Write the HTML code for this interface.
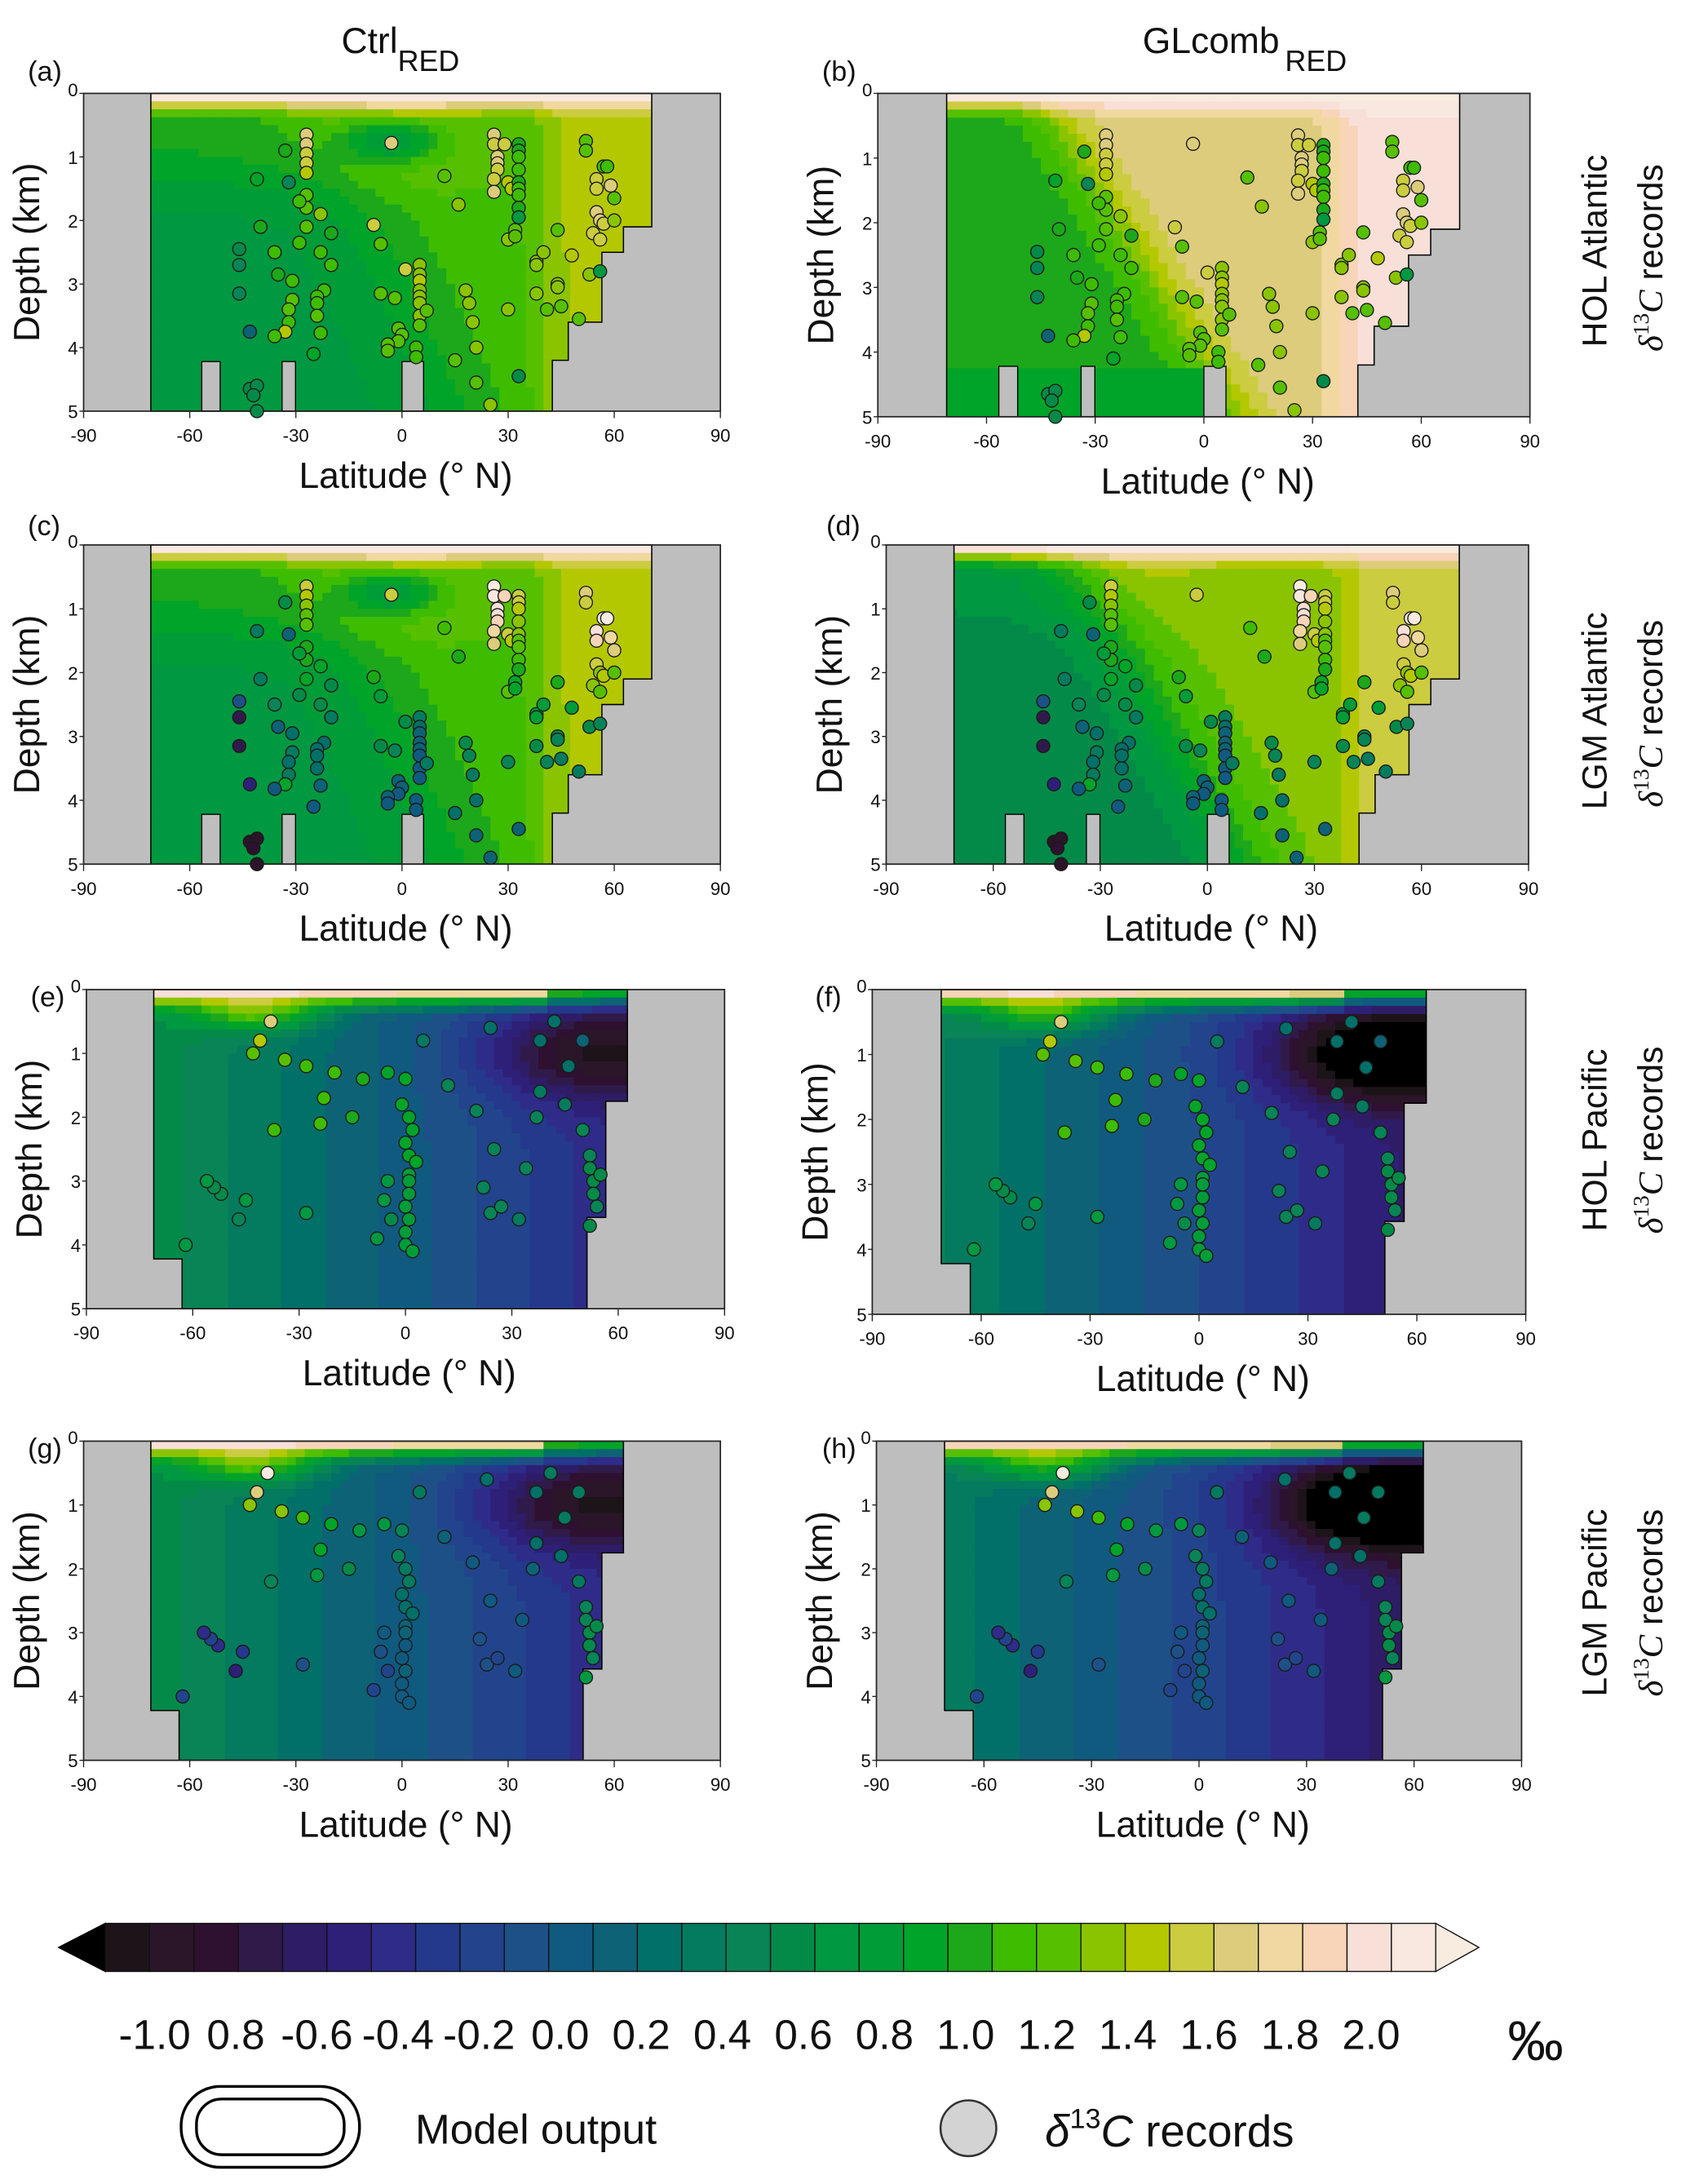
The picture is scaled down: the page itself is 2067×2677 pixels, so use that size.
<!DOCTYPE html>
<html><head><meta charset="utf-8"><style>
html,body{margin:0;padding:0;background:#fff}
svg{display:block}
text{font-family:"Liberation Sans",sans-serif;fill:#111}
</style></head><body>
<svg id="fig" xmlns="http://www.w3.org/2000/svg" width="2067" height="2677" viewBox="0 0 1210 1567" preserveAspectRatio="none">
<g>
<text x="245" y="38" font-size="26">Ctrl<tspan font-size="21" dy="13">RED</tspan></text>
<text x="820" y="38" font-size="26">GLcomb<tspan font-size="21" dy="13" dx="4">RED</tspan></text>
</g>
<g id="panels"></g>
<g font-size="26">
<text transform="rotate(-90 1153 180)" x="1153" y="180" text-anchor="middle" font-size="25">HOL Atlantic</text>
<text transform="rotate(-90 1193 185)" x="1193" y="185" text-anchor="middle" font-size="25"><tspan font-family="Liberation Serif" font-style="italic">δ</tspan><tspan font-family="Liberation Serif" font-size="16" dy="-10">13</tspan><tspan font-family="Liberation Serif" font-style="italic" dy="10">C</tspan> records</text>
<text transform="rotate(-90 1153 510)" x="1153" y="510" text-anchor="middle" font-size="25">LGM Atlantic</text>
<text transform="rotate(-90 1193 512)" x="1193" y="512" text-anchor="middle" font-size="25"><tspan font-family="Liberation Serif" font-style="italic">δ</tspan><tspan font-family="Liberation Serif" font-size="16" dy="-10">13</tspan><tspan font-family="Liberation Serif" font-style="italic" dy="10">C</tspan> records</text>
<text transform="rotate(-90 1153 818)" x="1153" y="818" text-anchor="middle" font-size="25">HOL Pacific</text>
<text transform="rotate(-90 1193 818)" x="1193" y="818" text-anchor="middle" font-size="25"><tspan font-family="Liberation Serif" font-style="italic">δ</tspan><tspan font-family="Liberation Serif" font-size="16" dy="-10">13</tspan><tspan font-family="Liberation Serif" font-style="italic" dy="10">C</tspan> records</text>
<text transform="rotate(-90 1153 1150)" x="1153" y="1150" text-anchor="middle" font-size="25">LGM Pacific</text>
<text transform="rotate(-90 1193 1150)" x="1193" y="1150" text-anchor="middle" font-size="25"><tspan font-family="Liberation Serif" font-style="italic">δ</tspan><tspan font-family="Liberation Serif" font-size="16" dy="-10">13</tspan><tspan font-family="Liberation Serif" font-style="italic" dy="10">C</tspan> records</text>
</g>
<g id="cbar"></g>
<text x="1082" y="1478" font-size="40">‰</text>
<g>
<rect x="130" y="1497" width="128" height="58" rx="28" fill="none" stroke="#000" stroke-width="2"/>
<rect x="141" y="1506" width="106" height="40" rx="18" fill="#fff" stroke="#000" stroke-width="2"/>
<text x="298" y="1538" font-size="30">Model output</text>
<circle cx="695" cy="1527" r="20" fill="#d3d3d3" stroke="#333" stroke-width="1.5"/>
<text x="750" y="1540" font-size="32" font-family="Liberation Serif"><tspan font-style="italic">δ</tspan><tspan font-size="20" dy="-13">13</tspan><tspan font-style="italic" dy="13">C</tspan> records</text>
</g>
</svg>
<script>
// ---- record data ----
const atlLat=[-27,-27,-27,-27,-27,-27,-27,-27,-3,-33,-41,-32,-29,-23,-40,-20,-29,-36,-23,-46,-46,-20,-35,-31,-22,-46,-24,-31,-24,-32,-24,-32,-33,-43,-36,-23,-25,-43,-41,-42,-41,-8,-6,1,5,5,5,5,5,5,5,5,-1,0,-1,-4,-4,4,4,-6,-2,7,12,16,18,19,20,21,15,21,25,26,26,27,27,27,26,26,29,30,31,30,30,33,33,33,33,33,33,33,33,33,32,32,33,38,38,38,40,41,44,44,44,45,48,50,53,56,52,52,57,58,55,55,59,60,55,56,57,54,56,60];
const atlDep=[0.65,0.8,0.95,1.1,1.25,1.6,1.8,2.1,0.78,0.9,1.35,1.4,1.7,1.9,2.1,2.2,2.35,2.5,2.5,2.45,2.7,2.7,2.85,2.95,3.1,3.15,3.2,3.25,3.3,3.4,3.5,3.6,3.75,3.75,3.82,3.77,4.1,4.65,4.6,4.75,5.0,2.07,2.37,2.77,2.7,2.85,2.95,3.1,3.2,3.3,3.5,3.65,3.7,3.8,3.9,3.95,4.05,4.0,4.15,3.15,3.22,3.42,1.3,1.75,3.1,3.3,3.6,4.0,4.2,4.55,4.9,0.65,0.8,1.0,1.1,1.2,1.35,1.55,0.8,1.4,1.5,2.3,3.4,0.8,0.9,1.0,1.2,1.4,1.5,1.6,1.8,1.95,2.15,2.25,4.45,2.65,2.7,3.15,2.5,3.4,2.15,3.0,3.05,3.35,2.55,3.55,2.85,2.8,0.75,0.9,1.15,1.15,1.35,1.5,1.45,1.65,1.87,2.0,2.05,2.2,2.3,2.0];
const atlHolVal=[1.55,1.5,1.45,1.4,1.3,1.1,1.1,1.1,1.55,0.9,0.8,0.4,1.0,1.2,0.9,0.9,1.0,1.0,1.0,0.5,0.4,1.0,0.9,1.0,1.0,0.45,1.0,1.1,1.0,1.1,1.1,1.0,1.3,0.1,1.0,1.0,0.8,0.5,0.5,0.5,0.5,1.45,1.1,1.4,1.2,1.2,1.3,1.2,1.2,1.2,1.2,1.1,1.1,1.1,1.1,1.1,1.1,1.0,1.0,1.1,1.1,1.1,1.1,1.2,1.2,1.2,1.2,1.2,1.1,1.1,1.2,1.5,1.45,1.5,1.55,1.45,1.45,1.5,1.45,1.3,1.3,1.2,1.2,0.9,0.9,1.0,1.0,0.9,1.0,1.0,0.9,0.6,1.1,1.1,0.5,1.2,1.2,1.2,1.2,1.1,1.1,1.2,1.2,1.1,1.3,1.1,1.2,0.6,1.1,1.1,1.0,1.0,1.4,1.4,1.5,1.1,1.55,1.55,1.4,1.4,1.4,1.2];
const atlLgmVal=[1.45,1.3,1.2,1.1,1.1,0.9,0.9,0.8,1.4,0.5,0.3,0.1,0.7,0.8,0.3,0.5,0.5,0.4,0.5,-0.1,-0.7,0.3,0.1,0.2,0.2,-0.7,0.2,0.3,0.2,0.2,0.2,0.3,0.8,-0.5,0.0,0.1,0.0,-0.9,-0.9,-0.8,-0.9,0.9,0.7,0.5,0.3,0.2,0.1,0.1,0.1,0.0,0.0,0.0,0.1,0.1,0.0,0.1,0.0,0.0,0.0,0.5,0.4,0.3,1.0,0.9,0.5,0.4,0.3,0.2,0.2,0.1,0.1,2.05,1.95,1.85,1.8,1.7,1.6,1.5,1.7,1.4,1.3,1.1,0.4,1.4,1.4,1.3,1.2,1.2,1.1,1.1,1.0,0.9,0.8,0.8,0.1,0.7,0.7,0.5,0.7,0.4,0.9,0.5,0.4,0.3,0.7,0.3,0.5,0.4,1.5,1.4,1.95,2.05,1.85,1.7,1.6,1.5,1.4,1.2,1.3,1.2,1.1,1.1];
const pacLat=[-38,-41,-43,-34,-28,-20,-12,-5,-23,-37,-24,-15,0,-1,1,2,0,1,3,1,1,1,0,1,0,0,2,-5,-6,-4,-8,-45,-52,-54,-56,-47,-62,-28,5,12,20,25,22,24,27,32,37,38,34,24,45,50,52,52,53,53,54,52,55,42,50,38,46];
const pacDep=[0.5,0.8,1.0,1.1,1.2,1.3,1.4,1.3,1.7,2.2,2.1,2.0,1.4,1.8,2.0,2.2,2.4,2.6,2.7,2.9,3.0,3.2,3.4,3.6,3.8,4.0,4.1,3.0,3.3,3.6,3.9,3.3,3.2,3.1,3.0,3.6,4.0,3.5,0.8,1.5,1.9,2.5,3.1,3.5,3.4,3.6,2.0,1.6,2.8,0.6,1.8,2.2,2.6,2.8,3.0,3.2,3.4,3.7,2.9,0.5,0.8,0.8,1.2];
const pacHolVal=[1.55,1.3,1.1,1.1,1.0,1.0,0.9,0.8,1.0,1.0,1.0,0.9,0.8,0.8,0.8,0.8,0.8,0.8,0.8,0.7,0.7,0.7,0.7,0.7,0.7,0.7,0.7,0.6,0.6,0.5,0.6,0.6,0.5,0.5,0.6,0.4,0.6,0.6,0.3,0.4,0.4,0.4,0.4,0.4,0.4,0.3,0.4,0.3,0.4,0.2,0.3,0.4,0.4,0.5,0.5,0.5,0.4,0.5,0.5,0.2,0.1,0.2,0.2];
const pacLgmVal=[2.1,1.5,1.2,1.2,1.0,0.8,0.6,0.6,0.8,0.4,0.6,0.5,0.4,0.4,0.3,0.3,0.2,0.2,0.2,0.1,0.1,0.0,0.0,0.1,0.0,0.0,0.0,0.0,-0.1,-0.2,-0.2,-0.3,-0.4,-0.2,-0.4,-0.5,-0.2,-0.1,0.3,0.1,0.0,0.0,-0.1,-0.1,-0.2,0.0,0.1,0.2,0.0,0.2,0.2,0.3,0.4,0.4,0.5,0.5,0.4,0.6,0.5,0.3,0.3,0.2,0.3];
// ---- axis ticks / colorbar ----
const latTicks=[-90,-60,-30,0,30,60,90];
const depthTicks=[0,1,2,3,4,5];
const cbarLabels=["-1.0","0.8","-0.6","-0.4","-0.2","0.0","0.2","0.4","0.6","0.8","1.0","1.2","1.4","1.6","1.8","2.0"];
const cbarColors=["#1c1418","#2a1628","#2e1030","#301a4a","#2e1c66","#2e2078","#2e2c88","#24388c","#22448c","#1e5088","#105a80","#0e6276","#007068","#047a5e","#088456","#048a48","#009840","#009c38","#00a428","#1ca81a","#3ebc00","#56c000","#8ac400","#b4c800","#cccc40","#dccc7c","#f0d8a0","#f8d4b8","#f8e0d8","#f8e8e0"];

const NS="http://www.w3.org/2000/svg";
function mk(tag,attrs,parent){const e=document.createElementNS(NS,tag);for(const k in attrs)e.setAttribute(k,attrs[k]);if(parent)parent.appendChild(e);return e;}
function col(v){if(v<-1)return"#000";if(v>=2)return"#f8ece0";return cbarColors[Math.max(0,Math.min(29,Math.floor((v+1)/0.1+1e-9)))];}
function sig(x){return 1/(1+Math.exp(-x));}
function surf(v,d,top){const f=Math.max(0,(0.5-d)/0.5);return v+Math.pow(f,2)*(top-v);}
function fA(lat,d){let v=0.66+0.42*sig((lat-(-25+8*d))/10)+0.27*sig((1.4-d)/0.25)*(1-sig((lat-15)/8))+0.25*sig((lat-40)/3)-0.55*Math.exp(-Math.pow((lat+3)/14,2)-Math.pow((d-0.75)/0.35,2));return surf(v,d,2.2);}
function fB(lat,d){let v=0.95+0.62*sig((lat-(-45+11*d))/5)+0.3*sig((lat-38)/3);if(d>4.2&&lat<0)v=0.85;return surf(v,d,2.2);}
function fD(lat,d){let v=0.5+0.75*sig((lat-(-40+10*d))/8)+0.2*sig((lat-40)/3)+0.15*sig((1.2-d)/0.25)*(1-sig((lat+10)/8));return surf(v,d,2.2);}
function fPf(s,k){return function(lat,d){let v=0.55-0.9*(lat+70)/125+s-k*Math.exp(-Math.pow((lat-50)/28,2)-Math.pow((d-1.0)/0.7,2))+0.8*Math.exp(-Math.pow((lat+42)/18,2)-Math.pow((d-0.35)/0.3,2));return surf(v,d,lat>40?1.3:2.2);};}

const atlPoly=[[-71,0],[70.6,0],[70.6,2.1],[62.6,2.1],[62.6,2.5],[56.5,2.5],[56.5,3.6],[47,3.6],[47,4.2],[42.5,4.2],[42.5,5],[-71,5]];
const pacPoly=[[-71,0],[62.6,0],[62.6,1.75],[56.5,1.75],[56.5,3.57],[51.2,3.57],[51.2,5],[-63,5],[-63,4.22],[-71,4.22]];
const seamounts=[[-56.6,-51.4],[-33.9,-30.1],[0,6.1]];

const panels=[
 {id:"a",x0:60,w:457,y0:67,h:228,b:"atl",f:fA,lat:atlLat,dep:atlDep,val:atlHolVal,lx:20,ly:58},
 {id:"b",x0:630,w:468,y0:67,h:232,b:"atl",f:fB,lat:atlLat,dep:atlDep,val:atlHolVal,lx:590,ly:58},
 {id:"c",x0:60,w:457,y0:391,h:229,b:"atl",f:fA,lat:atlLat,dep:atlDep,val:atlLgmVal,lx:20,ly:384},
 {id:"d",x0:636,w:461,y0:391,h:229,b:"atl",f:fD,lat:atlLat,dep:atlDep,val:atlLgmVal,lx:593,ly:384},
 {id:"e",x0:62,w:458,y0:710,h:229,b:"pac",f:fPf(0,0.6),lat:pacLat,dep:pacDep,val:pacHolVal,lx:22,ly:722},
 {id:"f",x0:626,w:469,y0:710,h:233,b:"pac",f:fPf(-0.15,0.95),lat:pacLat,dep:pacDep,val:pacHolVal,lx:585,ly:722},
 {id:"g",x0:60,w:457,y0:1034,h:229,b:"pac",f:fPf(0,0.6),lat:pacLat,dep:pacDep,val:pacLgmVal,lx:20,ly:1046},
 {id:"h",x0:629,w:463,y0:1034,h:229,b:"pac",f:fPf(-0.2,1.05),lat:pacLat,dep:pacDep,val:pacLgmVal,lx:590,ly:1046}
];
const root=document.getElementById("panels");
panels.forEach(p=>{
 const X=lat=>p.x0+(lat+90)/180*p.w, Y=d=>p.y0+d/5*p.h;
 const g=mk("g",{},root);
 
 
 const bg=mk("rect",{x:p.x0,y:p.y0,width:p.w,height:p.h,fill:"#bebebe"},g);
 
 
 const poly=p.b==="atl"?atlPoly:pacPoly;
 const pts=poly.map(q=>X(q[0]).toFixed(2)+","+Y(q[1]).toFixed(2)).join(" ");
 const cp=mk("clipPath",{id:"clip-"+p.id},g);
 mk("polygon",{points:pts},cp);
 const field=mk("g",{"clip-path":"url(#clip-"+p.id+")"},g);
 
 
 for(let lat=-72.5;lat<72.5;lat+=2.5){
  for(let d=0;d<5;d+=0.125){
   const c=mk("rect",{x:X(lat).toFixed(2),y:Y(d).toFixed(2),width:(X(lat+2.5)-X(lat)+0.4).toFixed(2),height:(Y(d+0.125)-Y(d)+0.4).toFixed(2),fill:col(p.f(lat+1.25,d+0.0625))},field);
   
   
  }
 }
 if(p.b==="atl"){seamounts.forEach(s=>{
  const r=mk("rect",{x:X(s[0]),y:Y(4.22),width:X(s[1])-X(s[0]),height:Y(5)-Y(4.22),fill:"#bebebe",stroke:"#000","stroke-width":0.8},g);
  
  
 });}
 const ol=mk("polygon",{points:pts,fill:"none",stroke:"#000","stroke-width":0.9},g);
 
 
 const fr=mk("rect",{x:p.x0,y:p.y0,width:p.w,height:p.h,fill:"none",stroke:"#222","stroke-width":1},g);
 
 
 for(let i=0;i<p.lat.length;i++){
  const c=mk("circle",{cx:X(p.lat[i]).toFixed(2),cy:Y(p.dep[i]).toFixed(2),r:4.7,fill:col(p.val[i]),stroke:"#1a1a1a","stroke-width":0.8},g);
  
  
 }
 latTicks.forEach(t=>{
  const l=mk("line",{x1:X(t),x2:X(t),y1:Y(5),y2:Y(5)+5,stroke:"#222","stroke-width":0.8},g);
  
  
  const tx=mk("text",{x:X(t),y:Y(5)+22,"font-size":13,"text-anchor":"middle"},g);
  tx.textContent=String(t);
  
  
 });
 depthTicks.forEach(t=>{
  const l=mk("line",{x1:p.x0-3,x2:p.x0,y1:Y(t),y2:Y(t),stroke:"#222","stroke-width":0.8},g);
  
  
  const tx=mk("text",{x:p.x0-4,y:Y(t)+(t===0?2:5),"font-size":13,"text-anchor":"end"},g);
  tx.textContent=String(t);
  
  
 });
 const xt=mk("text",{x:p.x0+p.w*0.506,y:Y(5)+55,"font-size":26,"text-anchor":"middle"},g);
 xt.textContent="Latitude (° N)";
 
 
 const yx=p.x0-32, yy=p.y0+p.h/2;
 const yt=mk("text",{x:yx,y:yy,"font-size":26,"text-anchor":"middle",transform:"rotate(-90 "+yx+" "+yy+")"},g);
 yt.textContent="Depth (km)";
 
 
 const lt=mk("text",{x:p.lx,y:p.ly,"font-size":20},g);
 lt.textContent="("+p.id+")";
 
 
});
const cb=document.getElementById("cbar");
const cbX0=75.5,cbW=31.83,cbY=1380,cbH=34.5;
const la=mk("polygon",{points:"42,"+(cbY+cbH/2)+" "+cbX0+","+cbY+" "+cbX0+","+(cbY+cbH),fill:"#000",stroke:"#000","stroke-width":0.8},cb);


cbarColors.forEach((c,i)=>{
 const r=mk("rect",{x:cbX0+i*cbW,y:cbY,width:cbW,height:cbH,fill:c,stroke:"#111","stroke-width":0.8},cb);
 
 
});
const xe=cbX0+30*cbW;
const ra=mk("polygon",{points:xe+","+cbY+" "+(xe+31)+","+(cbY+cbH/2)+" "+xe+","+(cbY+cbH),fill:"#f8ece0",stroke:"#111","stroke-width":0.8},cb);


cbarLabels.forEach((s,i)=>{
 const t=mk("text",{x:111+i*58.2,y:1470,"font-size":30,"text-anchor":"middle"},cb);
 t.textContent=s;
 
 
});
</script>
</body></html>
